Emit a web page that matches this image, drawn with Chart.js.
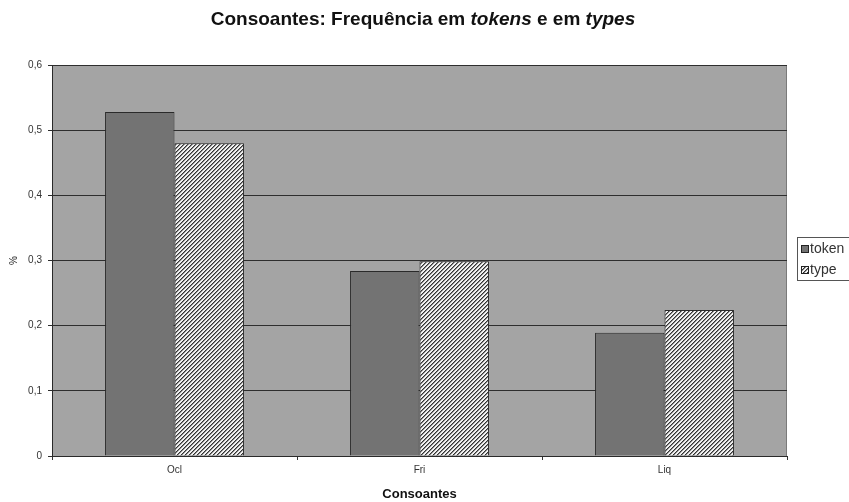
<!DOCTYPE html>
<html>
<head>
<meta charset="utf-8">
<script src="https://cdn.jsdelivr.net/npm/chart.js@4/dist/chart.umd.min.js"></script>
<style>
  html, body { margin: 0; padding: 0; background: #ffffff; }
  #wrap { width: 849px; height: 502px; position: relative; }
</style>
</head>
<body>
<div id="wrap"><canvas id="c" width="849" height="502"></canvas></div>
<script>
// Consonant classes and their relative frequencies
const categories = ['Ocl', 'Fri', 'Liq'];
const tokenValues = [0.528, 0.284, 0.189];
const typeValues = [0.480, 0.299, 0.224];
const seriesNames = ['token', 'type'];
const yTicks = [0, 0.1, 0.2, 0.3, 0.4, 0.5, 0.6];

const FONT = '"Liberation Sans", Arial, sans-serif';

// Fine diagonal hatch used for the "type" series
function makeHatch() {
  const t = document.createElement('canvas');
  t.width = 4; t.height = 4;
  const g = t.getContext('2d');
  g.fillStyle = '#f2f2f2';
  g.fillRect(0, 0, 4, 4);
  for (let y = 0; y < 4; y++) {
    const x = (3 - y + 4) % 4;
    g.fillStyle = '#333333';
    g.fillRect(x, y, 1, 1);
    g.fillStyle = '#8a8a8a';
    g.fillRect((x + 1) % 4, y, 1, 1);
  }
  return document.getElementById('c').getContext('2d').createPattern(t, 'repeat');
}
const hatch = makeHatch();

// Gray plot area with a thin frame
const plotBackground = {
  id: 'plotBackground',
  beforeDraw(chart) {
    const { ctx, chartArea: a } = chart;
    ctx.save();
    ctx.fillStyle = '#a4a4a4';
    ctx.fillRect(a.left, a.top, a.right - a.left, a.bottom - a.top);
    ctx.strokeStyle = '#7a7a7a';
    ctx.lineWidth = 1;
    ctx.strokeRect(a.left + 0.5, a.top + 0.5, a.right - a.left - 1, a.bottom - a.top);
    ctx.restore();
  }
};

// Title with italic words
const mixedTitle = {
  id: 'mixedTitle',
  afterDraw(chart) {
    const ctx = chart.ctx;
    const parts = [
      { t: 'Consoantes: Frequência em ', i: false },
      { t: 'tokens', i: true },
      { t: ' e em ', i: false },
      { t: 'types', i: true }
    ];
    ctx.save();
    ctx.fillStyle = '#111111';
    ctx.textBaseline = 'middle';
    ctx.textAlign = 'left';
    let total = 0;
    parts.forEach(p => {
      ctx.font = (p.i ? 'italic ' : '') + 'bold 19px ' + FONT;
      p.w = ctx.measureText(p.t).width;
      total += p.w;
    });
    let x = 423 - total / 2;
    parts.forEach(p => {
      ctx.font = (p.i ? 'italic ' : '') + 'bold 19px ' + FONT;
      ctx.fillText(p.t, x, 20);
      x += p.w;
    });
    ctx.restore();
  }
};

// Boxed legend on the right edge
const boxLegend = {
  id: 'boxLegend',
  afterDraw(chart) {
    const ctx = chart.ctx;
    const x0 = 797, y0 = 237;
    ctx.save();
    ctx.fillStyle = '#ffffff';
    ctx.fillRect(x0, y0, 70, 44);
    ctx.strokeStyle = '#555555';
    ctx.lineWidth = 1;
    ctx.strokeRect(x0 + 0.5, y0 + 0.5, 70, 43);
    ctx.font = '14px ' + FONT;
    ctx.textBaseline = 'middle';
    chart.data.datasets.forEach((ds, i) => {
      const cy = y0 + 12 + i * 21;
      ctx.fillStyle = ds.backgroundColor;
      ctx.fillRect(x0 + 4, cy - 4, 8, 8);
      ctx.strokeStyle = '#222222';
      ctx.strokeRect(x0 + 4.5, cy - 3.5, 7, 7);
      ctx.fillStyle = '#333333';
      ctx.fillText(ds.label, x0 + 13, cy);
    });
    ctx.restore();
  }
};

new Chart(document.getElementById('c'), {
  type: 'bar',
  data: {
    labels: categories,
    datasets: [
      {
        label: seriesNames[0],
        data: tokenValues,
        backgroundColor: '#737373',
        borderColor: '#2a2a2a',
        borderWidth: 1
      },
      {
        label: seriesNames[1],
        data: typeValues,
        backgroundColor: hatch,
        borderColor: '#2a2a2a',
        borderWidth: 1
      }
    ]
  },
  options: {
    responsive: false,
    animation: false,
    devicePixelRatio: 1,
    categoryPercentage: 0.567,
    barPercentage: 1.0,
    layout: { padding: { top: 65, right: 62, left: 8, bottom: 0 } },
    plugins: {
      legend: { display: false },
      title: { display: false },
      tooltip: { enabled: false }
    },
    scales: {
      x: {
        grid: {
          display: true,
          offset: true,
          drawOnChartArea: false,
          drawTicks: true,
          tickLength: 4,
          color: '#333333'
        },
        border: { display: true, color: '#2a2a2a', width: 1 },
        ticks: {
          color: '#333333',
          font: { family: FONT, size: 10 },
          padding: 4
        },
        title: {
          display: true,
          text: 'Consoantes',
          color: '#111111',
          font: { family: FONT, size: 13, weight: 'bold' },
          padding: { top: 6, bottom: 0 }
        },
        afterFit(scale) { scale.height = 46; }
      },
      y: {
        min: 0,
        max: 0.6,
        afterBuildTicks(scale) { scale.ticks = yTicks.map(v => ({ value: v })); },
        grid: {
          color: '#2e2e2e',
          lineWidth: 1,
          drawTicks: true,
          tickLength: 4
        },
        border: { display: true, color: '#2a2a2a', width: 1 },
        ticks: {
          color: '#333333',
          font: { family: FONT, size: 10 },
          padding: 6,
          callback: v => (v === 0 ? '0' : v.toFixed(1).replace('.', ','))
        },
        title: {
          display: true,
          text: '%',
          color: '#222222',
          font: { family: FONT, size: 10 },
          padding: 0
        },
        afterFit(scale) { scale.width = 44; }
      }
    }
  },
  plugins: [plotBackground, mixedTitle, boxLegend]
});
</script>
</body>
</html>
